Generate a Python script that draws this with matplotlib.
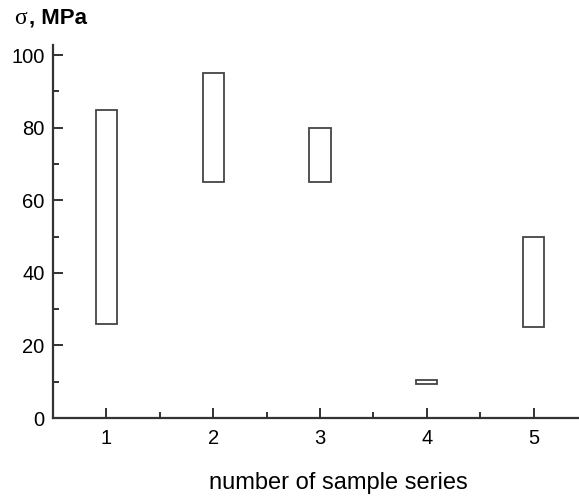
import matplotlib.pyplot as plt
from matplotlib.ticker import MultipleLocator

plt.rcParams['font.family'] = ['Liberation Sans', 'DejaVu Sans']

series = [1, 2, 3, 4, 5]
low = [26, 65, 65, 9.3, 25]
high = [85, 95, 80, 10.4, 50]

fig = plt.figure(figsize=(5.79, 4.96), dpi=100)
# axes run past the right edge, as in the reference
ax = fig.add_axes([53 / 579, 78 / 496, 534 / 579, 373 / 496])

heights = [h - l for h, l in zip(high, low)]
ax.bar(series, heights, bottom=low, width=0.2, color='white',
       edgecolor='#444444', linewidth=1.3)

ax.set_xlim(0.5, 5.5)
ax.set_ylim(0, 102.8)
ax.set_xticks(series)
ax.yaxis.set_major_locator(MultipleLocator(20))
ax.yaxis.set_minor_locator(MultipleLocator(10))
ax.xaxis.set_minor_locator(MultipleLocator(0.5))

for s in ['top', 'right']:
    ax.spines[s].set_visible(False)
for s in ['left', 'bottom']:
    ax.spines[s].set_linewidth(1.6)
    ax.spines[s].set_color('#333333')

ax.tick_params(which='major', direction='in', length=7, width=1.3,
               labelsize=14.5, color='#222222')
ax.tick_params(axis='x', which='major', pad=8)
ax.tick_params(axis='y', which='major', pad=6)
ax.tick_params(which='minor', direction='in', length=4, width=1.3,
               color='#222222')

fig.text(338 / 579, 1 - 483 / 496, 'number of sample series', fontsize=17,
         ha='center', va='center')
fig.text(14 / 579, 1 - 19 / 496, 'σ', fontsize=17, va='center',
         family='Liberation Serif')
fig.text(29 / 579, 1 - 18 / 496, ', MPa', fontsize=16, fontweight='bold',
         va='center')

fig.savefig('out.png', dpi=100)
